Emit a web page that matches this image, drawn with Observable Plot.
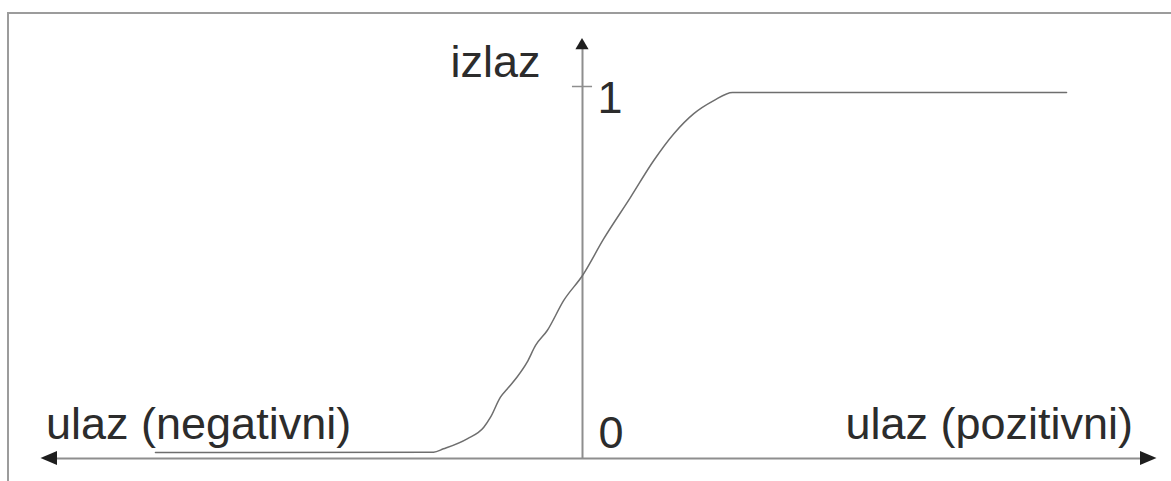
<!DOCTYPE html>
<html>
<head>
<meta charset="utf-8">
<script src="https://cdn.jsdelivr.net/npm/d3@7"></script>
<script src="https://cdn.jsdelivr.net/npm/@observablehq/plot@0.6"></script>
<style>
  html, body { margin: 0; padding: 0; background: #fff; }
  #wrap { position: relative; width: 1171px; height: 481px; overflow: hidden; }
  #border { position: absolute; left: 7px; top: 12px; right: 0; bottom: 0;
            border-top: 2px solid #9c9c9c; border-left: 2px solid #9c9c9c; }
  #chart { position: absolute; left: 0; top: 0; }
  #chart svg { background: transparent; }
</style>
</head>
<body>
<div id="wrap"><div id="border"></div><div id="chart"></div></div>
<script>
// Sigmoid-like activation: input (ulaz) vs output (izlaz)
const inputs  = [-2.847, -0.993, -0.927, -0.769, -0.658, -0.613, -0.547, -0.502, -0.436, -0.369, -0.313, -0.235, -0.125, 0, 0.142, 0.32, 0.475, 0.609, 0.742, 0.875, 1.0, 3.227];
const outputs = [0.016, 0.017, 0.026, 0.053, 0.084, 0.111, 0.165, 0.187, 0.219, 0.259, 0.304, 0.344, 0.425, 0.492, 0.591, 0.702, 0.801, 0.873, 0.927, 0.962, 0.984, 0.984];
const yTickValues = [0, 1];
const yTickLabels = ["0", "1"];
const yAxisLabel = "izlaz";
const xAxisLabels = ["ulaz (negativni)", "ulaz (pozitivni)"];

const curve = inputs.map((x, i) => ({x, y: outputs[i]}));

const axisColor = "#8e8e8e";
const headColor = "#1e1e1e";
const textColor = "#2c2c2c";
const font = "Arial, 'Liberation Sans', Helvetica, sans-serif";

// axis extents (in data units)
const xMin = -3.61, xMax = 3.83, yTop = 1.129;
const hx = 0.11, hy = 0.019;          // horizontal arrowhead size
const vy = 0.03, vx = 0.044;          // vertical arrowhead size

const chart = Plot.plot({
  width: 1171,
  height: 481,
  margin: 0,
  style: {background: "transparent", fontFamily: font},
  x: {domain: [0, 1], range: [582, 732], axis: null},
  y: {domain: [0, 1], range: [458, 86], axis: null},
  marks: [
    // x axis line
    Plot.ruleY([0], {x1: xMin + hx * 0.8, x2: xMax - hx * 0.8, stroke: axisColor, strokeWidth: 2}),
    // y axis line
    Plot.ruleX([0], {y1: 0, y2: yTop - vy * 0.8, stroke: axisColor, strokeWidth: 2}),
    // tick at 1
    Plot.ruleY([yTickValues[1]], {x1: -0.067, x2: 0.067, stroke: axisColor, strokeWidth: 1.5}),
    // arrowheads (filled triangles)
    Plot.areaY([{x: xMax - hx, a: -hy, b: hy}, {x: xMax, a: 0, b: 0}], {x: "x", y1: "a", y2: "b", fill: headColor}),
    Plot.areaY([{x: xMin, a: 0, b: 0}, {x: xMin + hx, a: -hy, b: hy}], {x: "x", y1: "a", y2: "b", fill: headColor}),
    Plot.areaX([{y: yTop - vy, a: -vx, b: vx}, {y: yTop, a: 0, b: 0}], {y: "y", x1: "a", x2: "b", fill: headColor}),
    // the curve
    Plot.line(curve, {x: "x", y: "y", stroke: "#6e6e6e", strokeWidth: 1.5, curve: "monotone-x"}),
    // tick labels
    Plot.text([yTickLabels[1]], {x: 0, y: yTickValues[1], text: d => d, dx: 15, dy: 26, lineAnchor: "bottom", textAnchor: "start", fontSize: 45, fill: textColor}),
    Plot.text([yTickLabels[0]], {x: 0, y: yTickValues[0], text: d => d, dx: 16, dy: -11, lineAnchor: "bottom", textAnchor: "start", fontSize: 45, fill: textColor}),
    // axis labels
    Plot.text([yAxisLabel], {x: 0, y: yTop, text: d => d, dx: -132, dy: 38, lineAnchor: "bottom", textAnchor: "start", fontSize: 45, fill: textColor}),
    Plot.text([xAxisLabels[0]], {x: xMin, y: 0, text: d => d, dx: 5, dy: -20, lineAnchor: "bottom", textAnchor: "start", fontSize: 45, fill: textColor}),
    Plot.text([xAxisLabels[1]], {x: xMax, y: 0, text: d => d, dx: -24, dy: -20, lineAnchor: "bottom", textAnchor: "end", fontSize: 45, fill: textColor})
  ]
});
document.getElementById("chart").appendChild(chart);
</script>
</body>
</html>
